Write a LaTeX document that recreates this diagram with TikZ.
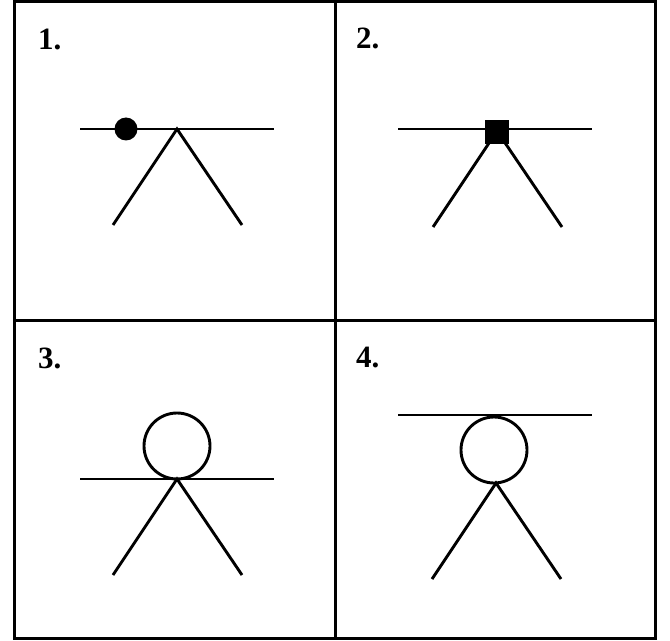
\documentclass[tikz,border=0pt]{standalone}
\usepackage{fontspec}
\setmainfont{Liberation Serif}
\usetikzlibrary{positioning}
\tikzset{
    frame/.style={
        line width=3bp
    },
    limb/.style={
        line width=2.9bp
    },
    panellabel/.style={
        font=\fontsize{31bp}{31bp}\selectfont\bfseries,
        inner sep=0pt,
        anchor=base west
    },
    joint/.style={
        circle,
        fill=black,
        inner sep=0pt,
        minimum size=23bp
    },
    block/.style={
        rectangle,
        fill=black,
        inner sep=0pt,
        minimum size=24bp
    },
    head/.style={
        circle,
        draw,
        line width=2.9bp,
        inner sep=0pt,
        minimum size=66bp
    }
}
\begin{document}
\begin{tikzpicture}[x=1bp, y=-1bp]

      \useasboundingbox (0,0) rectangle (670,641);

      % grid of four panels
      \draw[frame] (14,2) rectangle (655,638);
      \draw[frame] (335,2) -- (335,638);
      \draw[frame] (14,320) -- (655,320);

      \foreach \n/\x/\y in {
          1/38/50,
          2/356/49,
          3/38/368,
          4/356/367}
        {
          \node[panellabel] (lab\n) at (\x,\y) {\n.};
        }

      % legs
      \foreach \n/\x/\y in {
          1/177/129,
          2/497/131,
          3/177/479,
          4/496/483}
        {
          \coordinate (apex\n) at (\x,\y);
          \coordinate (footl\n) at (\x-64,\y+96);
          \coordinate (footr\n) at (\x+65,\y+96);
          \draw[limb] (footl\n) -- (apex\n) -- (footr\n);
        }

      % bars
      \draw[limb] (80,129) -- (274,129);
      \draw[limb] (398,129) -- (592,129);
      \draw[limb] (80,479) -- (274,479);
      \draw[limb] (398,415) -- (592,415);

      \node[joint] (ball) at (126,129) {};
      \node[block] (knot) at (497,132) {};
      \node[head] (head3) at (177,446) {};
      \node[head] (head4) at (494,450) {};

    \end{tikzpicture}
\end{document}
